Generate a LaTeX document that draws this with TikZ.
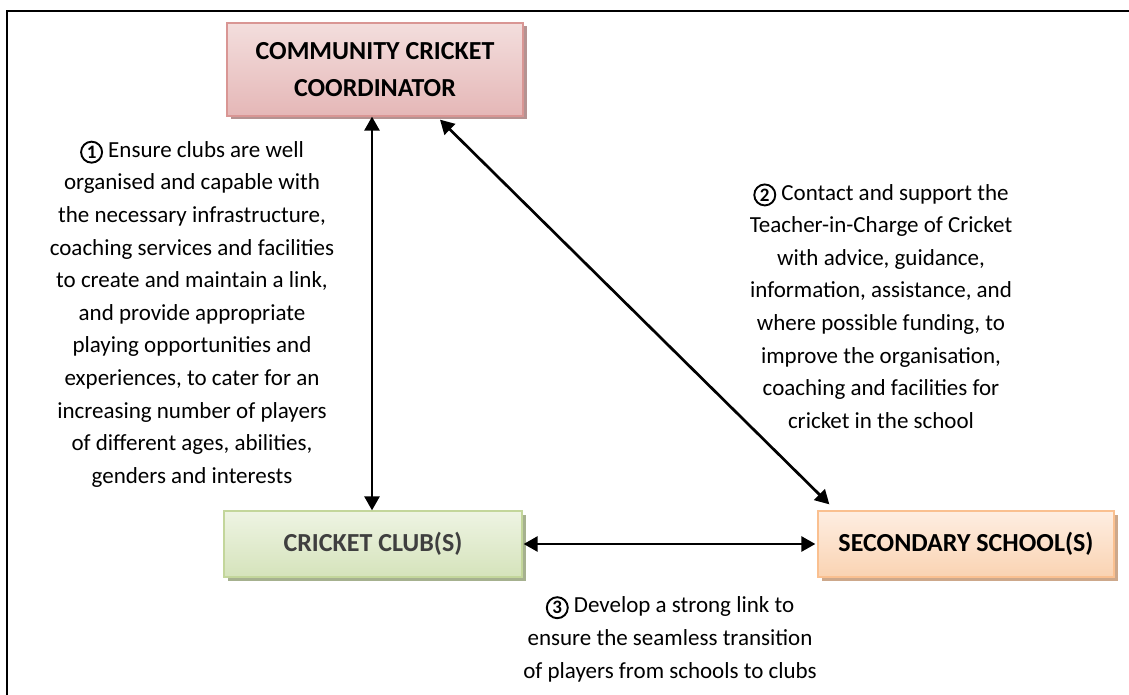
\documentclass[tikz,border=0pt]{standalone}
\usepackage{fontspec}
\setmainfont{Carlito}
\usetikzlibrary{arrows.meta,shadows}
\definecolor{coordtop}{HTML}{F3DEDD}
\definecolor{coordbot}{HTML}{E5B7B7}
\definecolor{coordline}{HTML}{D99694}
\definecolor{coordshade}{HTML}{B59392}
\definecolor{clubtop}{HTML}{EEF4E3}
\definecolor{clubbot}{HTML}{D5E3BB}
\definecolor{clubline}{HTML}{C3D69B}
\definecolor{clubshade}{HTML}{A6B18F}
\definecolor{schooltop}{HTML}{FEEEE2}
\definecolor{schoolbot}{HTML}{FAD3B2}
\definecolor{schoolline}{HTML}{FAC090}
\definecolor{schoolshade}{HTML}{CDA88B}
\definecolor{clubtext}{HTML}{3F3F3F}
\newcommand{\circnum}[1]{\tikz[baseline={([yshift=1pt]d.base)}]\node[circle,draw,line width=1.9pt,
  inner sep=0pt,minimum size=21pt,font=\fontsize{19}{19}\selectfont\bfseries] (d) {#1};}
\tikzset{
  card/.style={draw,line width=1.3pt,align=center,inner sep=0pt,
               minimum height=66pt,font=\fontsize{26}{37}\selectfont\bfseries},
  coordcard/.style={card,draw=coordline,top color=coordtop,bottom color=coordbot,
                    minimum width=296pt,minimum height=93pt,
                    drop shadow={shadow xshift=3.5pt,shadow yshift=-3.5pt,
                                 fill=coordshade,opacity=1}},
  clubcard/.style={card,draw=clubline,top color=clubtop,bottom color=clubbot,
                   minimum width=298pt,text=clubtext,
                   drop shadow={shadow xshift=3.5pt,shadow yshift=-3.5pt,
                                fill=clubshade,opacity=1}},
  schoolcard/.style={card,draw=schoolline,top color=schooltop,bottom color=schoolbot,
                     minimum width=296pt,
                     drop shadow={shadow xshift=3.5pt,shadow yshift=-3.5pt,
                                  fill=schoolshade,opacity=1}},
  note/.style={align=center,inner sep=0pt,font=\fontsize{23}{32.6}\selectfont},
  linkarr/.style={{Triangle[length=14pt,width=15pt]}-{Triangle[length=14pt,width=15pt]},
                  line width=2.7pt},
  frame/.style={line width=2pt}
}

\begin{document}
\begin{tikzpicture}[x=1pt,y=-1pt]
    \useasboundingbox (0,0) rectangle (1129,695);
    \draw[frame] (1129,11) -- (7,11) -- (7,695);
    \node[coordcard] (coord) at (375,69.5) {COMMUNITY CRICKET\\COORDINATOR};
    \node[clubcard] (club) at (373,544) {CRICKET CLUB(S)};
    \node[schoolcard] (school) at (966,544) {SECONDARY SCHOOL(S)};
    \draw[linkarr] (club.north -| 372,0) -- (coord.south -| 372,0);
    \draw[linkarr] ([xshift=65pt,yshift=-3pt]coord.south) -- ([xshift=12pt,yshift=6pt]school.north west);
    \draw[linkarr] ([xshift=1pt]club.east) -- ([xshift=-2pt]school.west);
    \node[note] (clubnote) at (192,314) {\circnum{1} Ensure clubs are well\\
      organised and capable with\\the necessary infrastructure,\\
      coaching services and facilities\\to create and maintain a link,\\
      and provide appropriate\\playing opportunities and\\
      experiences, to cater for an\\increasing number of players\\
      of different ages, abilities,\\genders and interests};
    \node[note] (schoolnote) at (881,306) {\circnum{2} Contact and support the\\
      Teacher-in-Charge of Cricket\\with advice, guidance,\\
      information, assistance, and\\where possible funding, to\\
      improve the organisation,\\coaching and facilities for\\
      cricket in the school};
    \node[note] (linknote) at (670,639) {\circnum{3} Develop a strong link to\\
      ensure the seamless transition\\of players from schools to clubs};
\end{tikzpicture}
\end{document}
